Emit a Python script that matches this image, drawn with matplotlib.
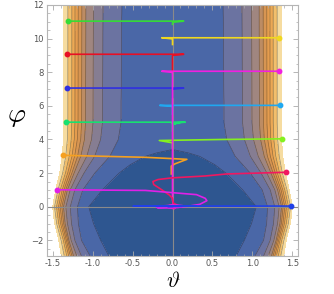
import numpy as np
import matplotlib.pyplot as plt

plt.rcParams['mathtext.fontset'] = 'cm'

# contour positions |theta| of levels 1..10, read at large phi and at phi = 0
level_theta_top = [0.635, 0.87, 0.99, 1.085, 1.135, 1.18, 1.22, 1.26, 1.31, 1.36]
level_theta_mid = [1.19, 1.28, 1.335, 1.365, 1.385, 1.406, 1.427, 1.452, 1.477, 1.50]
# how far the contours bulge out at each phi (inner and outer levels)
bulge_phi = [-3, -2, -1, 0, 1, 2, 3, 4, 5, 12]
bulge_inner = [0.70, 0.91, 0.98, 1.0, 0.88, 0.61, 0.27, 0.08, 0.02, 0.0]
bulge_outer = [0.20, 0.45, 0.82, 1.0, 0.72, 0.36, 0.14, 0.03, 0.0, 0.0]
# half width of the innermost (dark) region
core_phi = [-3.0, -2.0, -1.0, 0.0, 1.0, 2.0, 2.5, 3.0, 3.2, 3.4]
core_theta = [0.79, 0.90, 0.99, 1.05, 0.88, 0.67, 0.53, 0.34, 0.20, 0.0]

band_colors = ['#2e5690', '#4a67a7', '#6b73a1', '#867d92', '#a08680', '#bd8c63',
               '#d79552', '#e49c4e', '#eca955', '#f2bf6c', '#f6dca0']

# trajectories, in drawing order
path_theta = [
    [-1.31, 0.14, 0.01, 0.0, 0.0],
    [1.335, -0.135, -0.01, 0.0, 0.0],
    [-1.32, 0.14, 0.01, 0.0, 0.0],
    [-1.32, 0.14, 0.01, 0.0, 0.0],
    [1.34, -0.16, -0.01, 0.0, 0.0],
    [-1.335, 0.16, -0.01, 0.09, 0.0, 0.04, 0.0, 0.0],
    [1.365, 0.6, -0.165, -0.02, 0.0, 0.0],
    [-1.37, -0.34, 0.18, 0.03, -0.015, -0.015],
    [1.335, -0.135, -0.01, 0.0, 0.0, 0.01, 0.05, 0.02, -0.05, -0.03, 0.04, 0.0],
    [1.42, 0.68, 0.41, 0.0, -0.18, -0.245, -0.235, -0.135, -0.04, 0.0, 0.01,
     0.07, 0.02, -0.06, -0.03, 0.05, 0.0],
    [-1.44, -0.34, 0.3, 0.41, 0.43, 0.34, 0.18, 0.0, -0.18, -0.2, -0.12, 0.05,
     0.13, 0.08, -0.06, -0.08, 0.0, 0.05, 0.0],
    [1.48, -0.49, 0.3, -0.2, 0.12, -0.06, 0.0],
]
path_phi = [
    [11.04, 11.04, 10.98, 10.95, 10.85],
    [10.05, 10.05, 9.99, 9.95, 9.65],
    [9.07, 9.07, 9.01, 8.97, 8.1],
    [7.06, 7.06, 7.0, 6.97, 6.5],
    [6.03, 6.03, 5.97, 5.94, 5.5],
    [5.03, 5.03, 4.97, 4.97, 4.95, 4.94, 4.92, 4.5],
    [4.04, 4.0, 3.94, 3.82, 3.8, 3.5],
    [3.06, 2.94, 2.82, 2.55, 2.42, 1.95],
    [8.06, 8.06, 8.0, 7.97, 0.4, 0.15, 0.02, -0.12, -0.04, 0.08, 0.04, 0.0],
    [2.05, 1.95, 1.83, 1.72, 1.62, 1.5, 1.32, 1.01, 0.7, 0.5, 0.22,
     0.06, -0.1, -0.02, 0.1, 0.05, 0.0],
    [1.01, 0.97, 0.72, 0.5, 0.36, 0.14, 0.02, -0.06, -0.08, -0.02, 0.05, 0.1,
     0.06, -0.04, -0.03, 0.05, 0.08, 0.0, -0.02],
    [0.04, 0.04, 0.04, 0.03, 0.03, 0.02, 0.02],
]
path_colors = ['#36dc36', '#f0d820', '#e81024', '#3030e0', '#20a8f0', '#18e070',
               '#84f020', '#f5a020', '#f020e0', '#f01860', '#e020e8', '#2040e8']

# build a level-index field whose contours sit where they were read
th = np.linspace(-np.pi / 2, np.pi / 2, 801)
ph = np.linspace(-3.2, 12.2, 771)
top = np.array(level_theta_top)
mid = np.array(level_theta_mid)
w = np.linspace(0, 1, len(top))
field = np.empty((len(ph), len(th)))
for j, p in enumerate(ph):
    g = np.interp(p, bulge_phi, bulge_inner) * (1 - w) + np.interp(p, bulge_phi, bulge_outer) * w
    knots = top + (mid - top) * g
    core = np.interp(p, core_phi, core_theta, left=core_theta[0], right=0.0)
    if core > 0.004:
        xs = np.r_[0.0, core, knots, np.pi / 2]
        ks = np.r_[-0.5, 0.0, np.arange(1, 11), 12.0]
    else:
        xs = np.r_[0.0, knots, np.pi / 2]
        ks = np.r_[0.5, np.arange(1, 11), 12.0]
    field[j] = np.interp(np.abs(th), xs, ks)

T, P = np.meshgrid(th, ph)

fig = plt.figure(figsize=(3.34, 2.94), dpi=100)
ax = fig.add_axes([47 / 334, 38 / 294, 251 / 334, 251 / 294])

ax.contourf(T, P, field, levels=np.arange(-1, 11), colors=band_colors, zorder=0)
ax.contour(T, P, field, levels=np.arange(0, 10), colors='#222222',
           linewidths=0.5, alpha=0.45, zorder=1)

ax.axhline(0, color='#8a8a8a', lw=0.8, zorder=2)
ax.axvline(0, color='#8a8a8a', lw=0.8, zorder=2)

for xs_, ys_, c in zip(path_theta, path_phi, path_colors):
    ax.plot(xs_, ys_, color=c, lw=1.2, zorder=3, solid_joinstyle='round')
    ax.plot(xs_[0], ys_[0], 'o', color=c, ms=3.2, zorder=4)

ax.set_xlim(-np.pi / 2, np.pi / 2)
ax.set_ylim(-2.93, 12)
ax.set_xticks([-1.5, -1.0, -0.5, 0.0, 0.5, 1.0, 1.5])
ax.set_xticklabels(['-1.5', '-1.0', '-0.5', '0.0', '0.5', '1.0', '1.5'])
ax.set_yticks([-2, 0, 2, 4, 6, 8, 10, 12])
ax.set_xticks(np.arange(-1.5, 1.51, 0.1), minor=True)
ax.set_yticks(np.arange(-2.5, 12.01, 0.5), minor=True)
ax.tick_params(which='both', direction='in', top=True, right=True, color='#aaaaaa',
               labelsize=6, labelcolor='#555555', pad=2.5)
ax.tick_params(which='major', length=3.5, width=0.6)
ax.tick_params(which='minor', length=1.8, width=0.5)
for s in ax.spines.values():
    s.set_color('#b5b5b5')
    s.set_linewidth(0.8)

fig.text(17 / 334, 1 - 115 / 294, r'$\varphi$', fontsize=20, ha='center', va='center')
fig.text(173 / 334, 3 / 294, r'$\vartheta$', fontsize=16, ha='center', va='bottom')

fig.savefig('out.png', dpi=100)
